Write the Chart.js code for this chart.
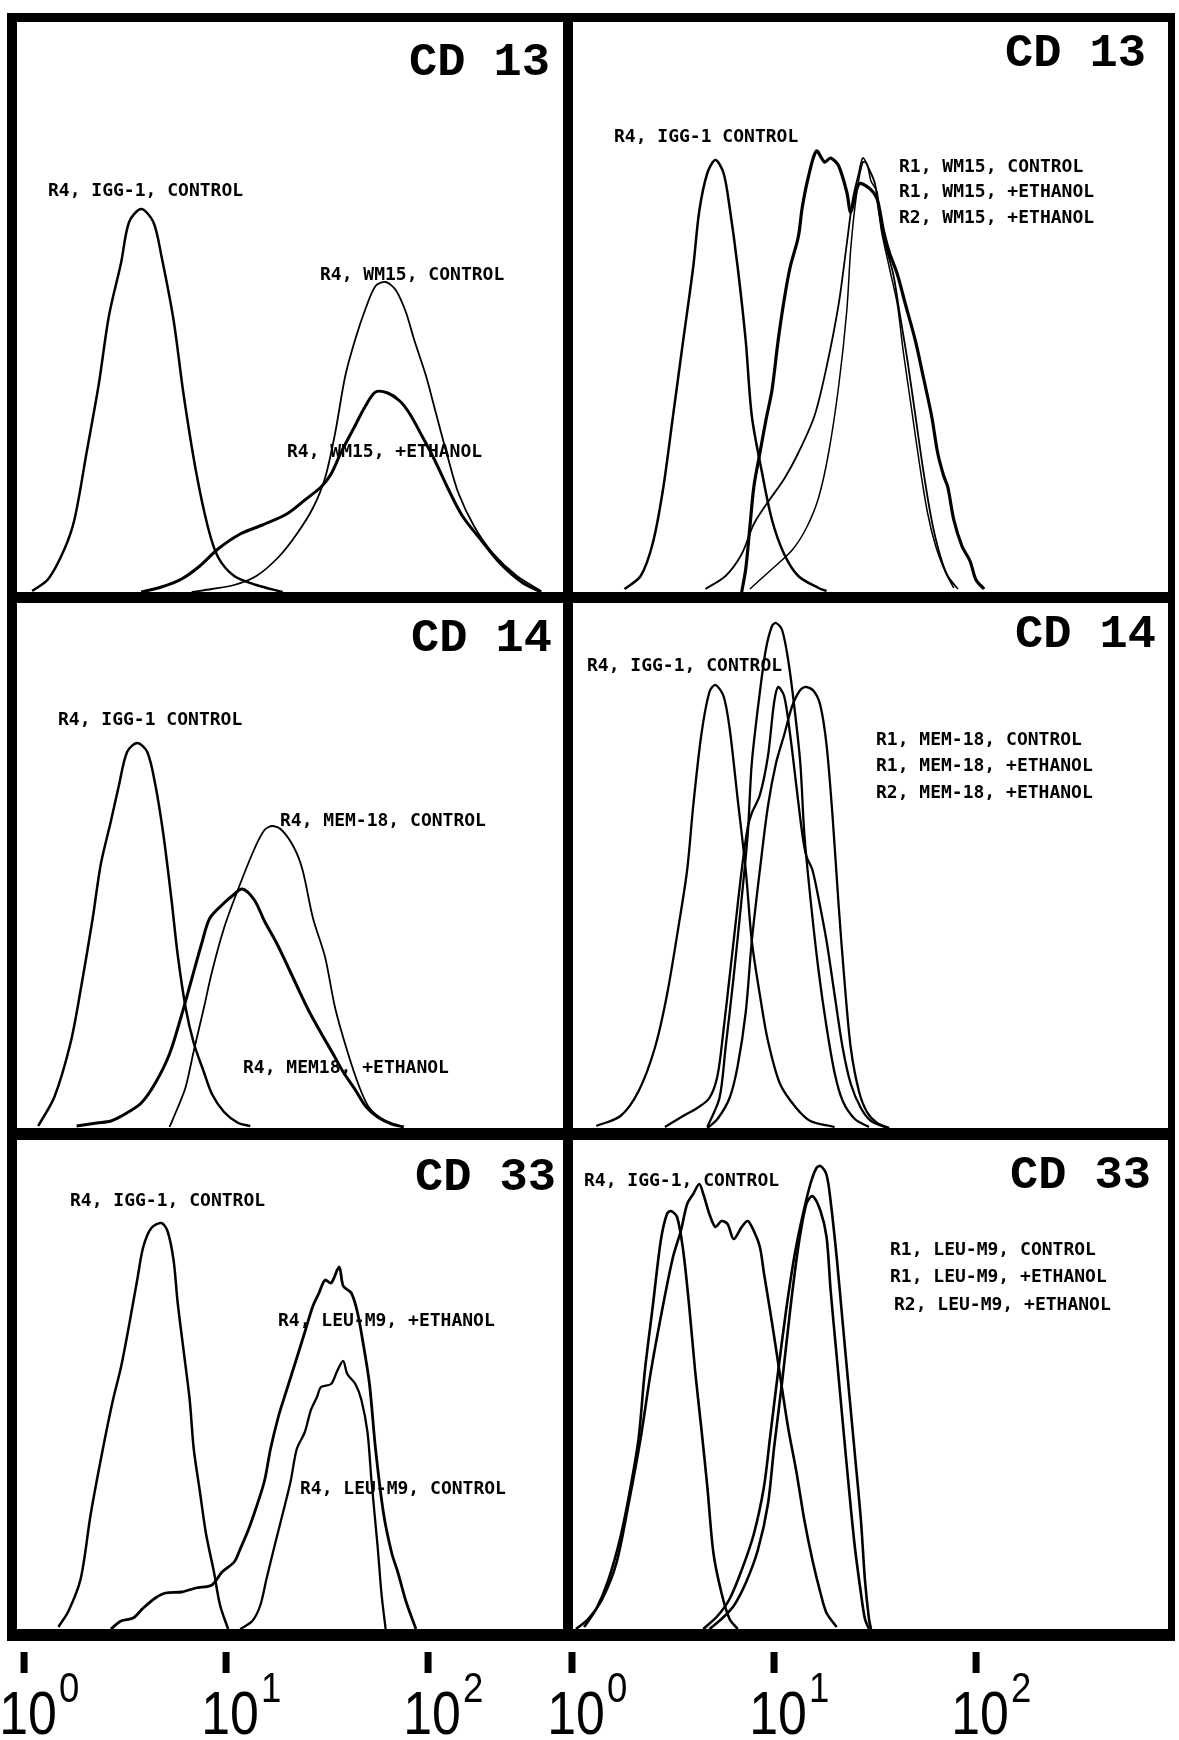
<!DOCTYPE html>
<html>
<head>
<meta charset="utf-8">
<script src="https://cdn.jsdelivr.net/npm/chart.js@4.4.0/dist/chart.umd.min.js"></script>
<style>
  body { margin: 0; background: #fff; width: 1179px; height: 1740px; position: relative; overflow: hidden; }
  canvas { position: absolute; }
  .bar { position: absolute; background: #000; z-index: 5; }
</style>
</head>
<body>
<script>
// x = log10 fluorescence (decades), y = relative cell count

// CD 13, left column
const cd13L_igg_x = [0.04, 0.12, 0.20, 0.25, 0.31, 0.37, 0.42, 0.48, 0.52, 0.58, 0.64, 0.68, 0.74, 0.79, 0.85, 0.91, 0.96, 1.04, 1.15, 1.28]
const cd13L_igg_y = [1, 13, 43, 73, 140, 208, 276, 329, 370, 383, 370, 336, 272, 197, 122, 65, 35, 16, 7, 0]
const cd13L_ctrl_x = [0.83, 0.93, 1.04, 1.15, 1.26, 1.35, 1.43, 1.49, 1.54, 1.59, 1.64, 1.69, 1.74, 1.79, 1.84, 1.89, 1.93, 1.99, 2.04, 2.10, 2.15, 2.23, 2.32, 2.44, 2.56]
const cd13L_ctrl_y = [0, 3, 7, 16, 35, 58, 84, 114, 159, 216, 253, 283, 306, 310, 302, 280, 253, 216, 178, 133, 99, 65, 39, 16, 1]
const cd13L_eth_x = [0.58, 0.68, 0.78, 0.87, 0.96, 1.07, 1.18, 1.30, 1.39, 1.47, 1.52, 1.57, 1.63, 1.69, 1.74, 1.80, 1.86, 1.91, 1.97, 2.03, 2.10, 2.17, 2.27, 2.36, 2.47, 2.56]
const cd13L_eth_y = [0, 5, 13, 26, 43, 58, 67, 78, 92, 105, 118, 140, 163, 186, 200, 199, 191, 178, 156, 133, 103, 76, 50, 28, 9, 0]

// CD 13, right column
const cd13R_igg_x = [0.26, 0.34, 0.40, 0.45, 0.50, 0.55, 0.60, 0.63, 0.67, 0.71, 0.75, 0.78, 0.82, 0.86, 0.89, 0.94, 0.99, 1.05, 1.12, 1.22, 1.26]
const cd13R_igg_y = [3, 16, 49, 102, 176, 251, 325, 381, 419, 432, 419, 385, 325, 251, 176, 120, 72, 38, 16, 4, 1]
const cd13R_r1Ctrl_x = [0.84, 0.86, 0.88, 0.90, 0.93, 0.96, 0.99, 1.02, 1.05, 1.08, 1.12, 1.14, 1.17, 1.21, 1.25, 1.28, 1.32, 1.36, 1.38, 1.42, 1.47, 1.51, 1.54, 1.57, 1.61, 1.65, 1.70, 1.74, 1.78, 1.81, 1.84, 1.86, 1.89, 1.93, 1.97, 2.00, 2.04]
const cd13R_r1Ctrl_y = [0, 23, 64, 105, 139, 172, 202, 251, 292, 325, 355, 385, 415, 441, 430, 434, 426, 400, 380, 408, 404, 393, 363, 340, 318, 288, 251, 214, 176, 139, 116, 105, 72, 46, 31, 12, 3]
const cd13R_r1Eth_x = [0.66, 0.76, 0.84, 0.90, 0.97, 1.05, 1.12, 1.20, 1.26, 1.32, 1.36, 1.39, 1.42, 1.44, 1.47, 1.50, 1.52, 1.55, 1.59, 1.62, 1.66, 1.70, 1.74, 1.78, 1.82, 1.86, 1.91]
const cd13R_r1Eth_y = [3, 16, 38, 68, 90, 113, 139, 176, 225, 288, 348, 393, 419, 434, 423, 408, 378, 348, 318, 281, 232, 176, 120, 72, 38, 16, 3]
const cd13R_r2Eth_x = [0.88, 0.99, 1.09, 1.16, 1.22, 1.27, 1.32, 1.36, 1.38, 1.41, 1.44, 1.46, 1.48, 1.51, 1.53, 1.57, 1.61, 1.64, 1.68, 1.72, 1.76, 1.80, 1.85, 1.89]
const cd13R_r2Eth_y = [3, 23, 42, 64, 94, 139, 206, 281, 344, 400, 430, 428, 411, 400, 363, 325, 288, 240, 184, 128, 79, 46, 19, 4]

// CD 14, left column
const cd14L_igg_x = [0.07, 0.15, 0.23, 0.28, 0.34, 0.38, 0.43, 0.47, 0.51, 0.56, 0.61, 0.65, 0.69, 0.73, 0.76, 0.80, 0.84, 0.89, 0.93, 0.99, 1.06, 1.12]
const cd14L_igg_y = [2, 31, 85, 138, 210, 264, 307, 343, 376, 385, 376, 343, 293, 228, 174, 120, 85, 56, 34, 16, 5, 2]
const cd14L_ctrl_x = [0.72, 0.76, 0.80, 0.84, 0.89, 0.93, 0.99, 1.06, 1.14, 1.19, 1.23, 1.28, 1.34, 1.38, 1.43, 1.49, 1.54, 1.60, 1.66, 1.71, 1.79, 1.86]
const cd14L_ctrl_y = [1, 20, 41, 77, 120, 156, 200, 239, 279, 298, 302, 297, 279, 257, 210, 171, 120, 77, 41, 20, 7, 2]
const cd14L_eth_x = [0.26, 0.36, 0.43, 0.50, 0.58, 0.65, 0.72, 0.78, 0.83, 0.88, 0.92, 0.99, 1.03, 1.08, 1.14, 1.19, 1.25, 1.30, 1.36, 1.41, 1.47, 1.53, 1.58, 1.64, 1.69, 1.75, 1.82, 1.88]
const cd14L_eth_y = [2, 5, 7, 14, 25, 45, 74, 113, 149, 185, 210, 225, 232, 239, 228, 207, 185, 164, 138, 117, 95, 74, 56, 38, 22, 11, 4, 1]

// CD 14, right column
const cd14R_igg_x = [0.12, 0.24, 0.33, 0.41, 0.47, 0.53, 0.57, 0.60, 0.64, 0.68, 0.71, 0.75, 0.78, 0.82, 0.86, 0.89, 0.93, 0.97, 1.03, 1.11, 1.18, 1.30]
const cd14R_igg_y = [2, 12, 37, 80, 133, 205, 258, 322, 393, 436, 443, 432, 400, 329, 258, 187, 133, 87, 44, 20, 7, 1]
const cd14R_r1Ctrl_x = [0.67, 0.73, 0.76, 0.80, 0.84, 0.87, 0.89, 0.93, 0.96, 0.99, 1.01, 1.04, 1.07, 1.10, 1.13, 1.15, 1.18, 1.22, 1.26, 1.30, 1.34, 1.40, 1.47]
const cd14R_r1Ctrl_y = [1, 30, 80, 151, 230, 294, 365, 436, 479, 502, 505, 498, 468, 422, 365, 294, 230, 158, 101, 55, 27, 9, 1]
const cd14R_r1Eth_x = [0.46, 0.55, 0.62, 0.68, 0.72, 0.75, 0.78, 0.81, 0.84, 0.87, 0.89, 0.93, 0.97, 1.00, 1.02, 1.05, 1.08, 1.11, 1.14, 1.16, 1.19, 1.22, 1.26, 1.30, 1.34, 1.38, 1.43, 1.48, 1.55]
const cd14R_r1Eth_y = [1, 12, 20, 30, 52, 98, 151, 205, 258, 301, 315, 333, 372, 425, 441, 432, 393, 343, 294, 272, 258, 230, 187, 133, 80, 44, 20, 7, 1]
const cd14R_r2Eth_x = [0.67, 0.72, 0.78, 0.82, 0.86, 0.89, 0.93, 0.97, 1.01, 1.05, 1.09, 1.13, 1.16, 1.20, 1.23, 1.26, 1.29, 1.32, 1.35, 1.38, 1.42, 1.46, 1.51, 1.57]
const cd14R_r2Eth_y = [0, 9, 30, 62, 116, 187, 258, 322, 365, 393, 422, 438, 441, 436, 422, 383, 311, 222, 144, 80, 37, 16, 5, 0]

// CD 33, left column
const cd33L_igg_x = [0.17, 0.22, 0.28, 0.33, 0.39, 0.44, 0.48, 0.52, 0.56, 0.59, 0.63, 0.68, 0.71, 0.74, 0.76, 0.79, 0.82, 0.84, 0.87, 0.90, 0.94, 0.97, 1.01]
const cd33L_igg_y = [2, 18, 50, 115, 180, 229, 262, 304, 349, 382, 401, 406, 398, 369, 327, 278, 229, 180, 138, 96, 57, 24, 0]
const cd33L_eth_x = [0.43, 0.48, 0.54, 0.59, 0.65, 0.70, 0.78, 0.85, 0.93, 0.98, 1.04, 1.07, 1.11, 1.15, 1.19, 1.22, 1.26, 1.30, 1.35, 1.39, 1.43, 1.46, 1.49, 1.52, 1.56, 1.58, 1.62, 1.65, 1.68, 1.71, 1.74, 1.78, 1.82, 1.85, 1.89, 1.94]
const cd33L_eth_y = [0, 8, 11, 21, 31, 36, 37, 41, 44, 57, 67, 80, 99, 122, 148, 180, 213, 239, 271, 297, 323, 336, 349, 346, 362, 343, 336, 317, 284, 245, 180, 115, 76, 57, 28, 0]
const cd33L_ctrl_x = [1.07, 1.13, 1.17, 1.20, 1.24, 1.28, 1.32, 1.35, 1.39, 1.42, 1.45, 1.47, 1.52, 1.55, 1.58, 1.60, 1.64, 1.67, 1.70, 1.72, 1.75, 1.77, 1.79]
const cd33L_ctrl_y = [0, 8, 24, 50, 83, 115, 148, 180, 197, 219, 232, 242, 245, 258, 268, 255, 245, 229, 197, 148, 83, 34, 0]

// CD 33, right column
const cd33R_igg_x = [0.06, 0.12, 0.18, 0.24, 0.29, 0.33, 0.36, 0.40, 0.44, 0.47, 0.49, 0.52, 0.55, 0.58, 0.61, 0.64, 0.67, 0.70, 0.74, 0.78, 0.82]
const cd33R_igg_y = [2, 20, 49, 92, 142, 191, 257, 323, 389, 415, 418, 412, 379, 323, 257, 201, 142, 76, 36, 10, 0]
const cd33R_r1Ctrl_x = [0.02, 0.08, 0.15, 0.22, 0.28, 0.34, 0.39, 0.45, 0.50, 0.54, 0.57, 0.60, 0.63, 0.65, 0.68, 0.71, 0.74, 0.77, 0.80, 0.84, 0.87, 0.90, 0.93, 0.95, 0.98, 1.01, 1.04, 1.07, 1.11, 1.15, 1.19, 1.23, 1.26, 1.31]
const cd33R_r1Ctrl_y = [0, 10, 30, 66, 125, 191, 257, 323, 372, 399, 425, 435, 445, 435, 415, 402, 408, 405, 390, 402, 408, 398, 382, 356, 319, 280, 240, 201, 158, 109, 69, 36, 16, 2]
const cd33R_r1Eth_x = [0.65, 0.72, 0.78, 0.84, 0.90, 0.95, 0.98, 1.02, 1.06, 1.10, 1.14, 1.18, 1.21, 1.23, 1.26, 1.28, 1.31, 1.34, 1.37, 1.40, 1.43, 1.45, 1.47, 1.48]
const cd33R_r1Eth_y = [0, 13, 30, 59, 95, 142, 191, 257, 319, 372, 412, 445, 461, 463, 454, 428, 372, 306, 240, 175, 109, 49, 10, 0]
const cd33R_r2Eth_x = [0.68, 0.74, 0.80, 0.86, 0.92, 0.97, 1.00, 1.04, 1.08, 1.12, 1.16, 1.19, 1.23, 1.26, 1.28, 1.31, 1.34, 1.37, 1.40, 1.43, 1.45, 1.47]
const cd33R_r2Eth_y = [0, 10, 23, 46, 79, 125, 181, 247, 319, 382, 425, 433, 418, 392, 339, 273, 207, 142, 82, 36, 10, 0]

const decadeTicks = [0, 1, 2]

// page layout
const panels = [
  { left: 17, top: 22, w: 546, h: 570, pad: {}, xMin: -0.035, xMax: 2.668, yMax: 570,
    series: [[cd13L_igg_x, cd13L_igg_y, 2.5], [cd13L_ctrl_x, cd13L_ctrl_y, 1.8], [cd13L_eth_x, cd13L_eth_y, 3]],
    title: ['CD 13', 409, 75],
    labels: [['R4, IGG-1, CONTROL', 48, 196], ['R4, WM15, CONTROL', 320, 280], ['R4, WM15, +ETHANOL', 287, 457]] },
  { left: 573, top: 22, w: 595, h: 570, pad: {}, xMin: 0.005, xMax: 2.95, yMax: 570,
    series: [[cd13R_igg_x, cd13R_igg_y, 2.5], [cd13R_r1Ctrl_x, cd13R_r1Ctrl_y, 3.2], [cd13R_r1Eth_x, cd13R_r1Eth_y, 1.8], [cd13R_r2Eth_x, cd13R_r2Eth_y, 1.5]],
    title: ['CD 13', 1005, 66],
    labels: [['R4, IGG-1 CONTROL', 614, 142], ['R1, WM15, CONTROL', 899, 172], ['R1, WM15, +ETHANOL', 899, 197], ['R2, WM15, +ETHANOL', 899, 223]] },
  { left: 17, top: 603, w: 546, h: 525, pad: {}, xMin: -0.035, xMax: 2.668, yMax: 525,
    series: [[cd14L_igg_x, cd14L_igg_y, 2.5], [cd14L_ctrl_x, cd14L_ctrl_y, 1.8], [cd14L_eth_x, cd14L_eth_y, 3]],
    title: ['CD 14', 411, 651],
    labels: [['R4, IGG-1 CONTROL', 58, 725], ['R4, MEM-18, CONTROL', 280, 826], ['R4, MEM18, +ETHANOL', 243, 1073]] },
  { left: 573, top: 603, w: 595, h: 525, pad: {}, xMin: 0.005, xMax: 2.95, yMax: 525,
    series: [[cd14R_igg_x, cd14R_igg_y, 2.3], [cd14R_r1Ctrl_x, cd14R_r1Ctrl_y, 2.3], [cd14R_r1Eth_x, cd14R_r1Eth_y, 2.3], [cd14R_r2Eth_x, cd14R_r2Eth_y, 2.3]],
    title: ['CD 14', 1015, 647],
    labels: [['R4, IGG-1, CONTROL', 587, 671], ['R1, MEM-18, CONTROL', 876, 745], ['R1, MEM-18, +ETHANOL', 876, 771], ['R2, MEM-18, +ETHANOL', 876, 798]] },
  { left: 0, top: 1140, w: 563, h: 600, pad: { left: 17, bottom: 111 }, xMin: -0.035, xMax: 2.668, yMax: 489, ticks: true,
    series: [[cd33L_igg_x, cd33L_igg_y, 2.5], [cd33L_eth_x, cd33L_eth_y, 2.8], [cd33L_ctrl_x, cd33L_ctrl_y, 2.3]],
    title: ['CD 33', 415, 1190],
    labels: [['R4, IGG-1, CONTROL', 70, 1206], ['R4, LEU-M9, +ETHANOL', 278, 1326], ['R4, LEU-M9, CONTROL', 300, 1494]] },
  { left: 540, top: 1140, w: 639, h: 600, pad: { left: 33, right: 11, bottom: 111 }, xMin: 0.005, xMax: 2.95, yMax: 489, ticks: true,
    series: [[cd33R_igg_x, cd33R_igg_y, 2.6], [cd33R_r1Ctrl_x, cd33R_r1Ctrl_y, 2.6], [cd33R_r1Eth_x, cd33R_r1Eth_y, 2.6], [cd33R_r2Eth_x, cd33R_r2Eth_y, 2.6]],
    title: ['CD 33', 1010, 1188],
    labels: [['R4, IGG-1, CONTROL', 584, 1186], ['R1, LEU-M9, CONTROL', 890, 1255], ['R1, LEU-M9, +ETHANOL', 890, 1282], ['R2, LEU-M9, +ETHANOL', 894, 1310]] }
]

// frame lines: [left, top, width, height]
const bars = [
  [7, 13, 10, 1628], [7, 13, 1168, 9], [1168, 13, 7, 1628], [7, 1629, 1168, 12],
  [563, 13, 10, 1628], [7, 592, 1168, 11], [7, 1128, 1168, 12]
]
bars.forEach(b => {
  const d = document.createElement('div')
  d.className = 'bar'
  d.style.cssText = `left:${b[0]}px;top:${b[1]}px;width:${b[2]}px;height:${b[3]}px`
  document.body.appendChild(d)
})

const textPlugin = {
  id: 'panelText',
  afterDatasetsDraw(chart) {
    const p = chart.config.options.panel
    const ctx = chart.ctx
    ctx.save()
    ctx.fillStyle = '#000'
    ctx.textBaseline = 'alphabetic'
    ctx.font = 'bold 47px "Liberation Mono", monospace'
    ctx.fillText(p.title[0], p.title[1] - p.left, p.title[2] - p.top)
    ctx.font = 'bold 18px "DejaVu Sans Mono", monospace'
    p.labels.forEach(l => ctx.fillText(l[0], l[1] - p.left, l[2] - p.top))
    ctx.restore()
  }
}

const tickPlugin = {
  id: 'decadeTicks',
  afterDraw(chart) {
    const p = chart.config.options.panel
    if (!p.ticks) return
    const ctx = chart.ctx
    const sx = chart.scales.x
    const b = chart.chartArea.bottom
    ctx.save()
    ctx.fillStyle = '#000'
    ctx.textBaseline = 'alphabetic'
    decadeTicks.forEach(k => {
      const px = sx.getPixelForValue(k)
      ctx.fillRect(px - 3.5, b + 23, 7, 21)
      ctx.save()
      ctx.translate(px + 4, b + 105)
      ctx.scale(0.85, 1)
      ctx.font = '61px "Liberation Sans", sans-serif'
      ctx.textAlign = 'center'
      ctx.fillText('10', 0, 0)
      ctx.restore()
      ctx.save()
      ctx.translate(px + 35, b + 73)
      ctx.scale(0.85, 1)
      ctx.font = '43px "Liberation Sans", sans-serif'
      ctx.textAlign = 'left'
      ctx.fillText(String(k), 0, 0)
      ctx.restore()
    })
    ctx.restore()
  }
}

panels.forEach(p => {
  const c = document.createElement('canvas')
  c.width = p.w
  c.height = p.h
  c.style.left = p.left + 'px'
  c.style.top = p.top + 'px'
  document.body.appendChild(c)
  const datasets = p.series.map(s => ({
    data: s[0].map((v, i) => ({ x: v, y: s[1][i] })),
    borderColor: '#000',
    borderWidth: s[2],
    pointRadius: 0,
    tension: 0.3,
    fill: false
  }))
  new Chart(c, {
    type: 'line',
    data: { datasets },
    options: {
      panel: p,
      responsive: false,
      animation: false,
      events: [],
      layout: { padding: Object.assign({ left: 0, right: 0, top: 0, bottom: 0 }, p.pad) },
      plugins: { legend: { display: false }, tooltip: { enabled: false } },
      scales: {
        x: { type: 'linear', min: p.xMin, max: p.xMax, display: false },
        y: { min: 0, max: p.yMax, display: false }
      }
    },
    plugins: [textPlugin, tickPlugin]
  })
})
</script>
</body>
</html>
